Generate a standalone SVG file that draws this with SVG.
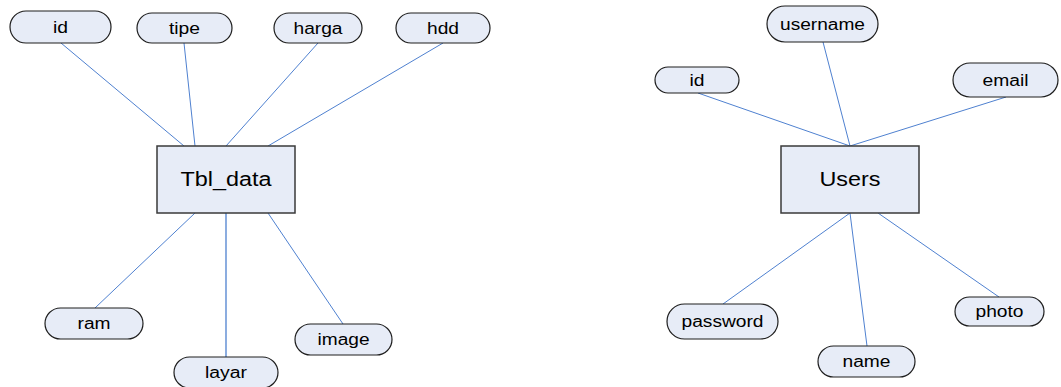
<svg xmlns="http://www.w3.org/2000/svg" width="1061" height="387" viewBox="0 0 1061 387">
<style>
.attr{fill:#e7ecf7;stroke:#1e1e1e;stroke-width:1.2}
.ent{fill:#e7ecf7;stroke:#3a3a3a;stroke-width:1.5}
.t{font-family:"Liberation Sans",Arial,sans-serif;font-size:16px;fill:#000;text-anchor:middle}
.te{font-family:"Liberation Sans",Arial,sans-serif;font-size:19.5px;fill:#000;text-anchor:middle}
.c line{stroke:#4f81d0;stroke-width:1}
</style>
<rect width="1061" height="387" fill="#fff"/>
<g class="c" id="connectors">
<line x1="61" y1="43" x2="184" y2="146"/>
<line x1="184" y1="43" x2="195" y2="146"/>
<line x1="318" y1="43" x2="226" y2="146"/>
<line x1="443" y1="43" x2="268" y2="146"/>
<line x1="195" y1="213" x2="95" y2="308"/>
<line x1="226" y1="213" x2="226" y2="357" style="stroke-width:1.6;stroke:#6f98d8"/>
<line x1="268" y1="213" x2="343" y2="324"/>
<line x1="698" y1="93" x2="850" y2="146"/>
<line x1="823" y1="42" x2="850" y2="146"/>
<line x1="1006" y1="97" x2="850" y2="146"/>
<line x1="850" y1="213" x2="723" y2="304"/>
<line x1="850" y1="213" x2="867" y2="346"/>
<line x1="878" y1="213" x2="999" y2="297"/>
</g>
<g id="tbl_data"><rect class="ent" x="157" y="146" width="138" height="67"/><text class="te" x="226" y="186" textLength="91" lengthAdjust="spacingAndGlyphs">Tbl_data</text></g>
<g id="users"><rect class="ent" x="781" y="146" width="138" height="67"/><text class="te" x="850" y="186" textLength="61" lengthAdjust="spacingAndGlyphs">Users</text></g>
<g id="tbl_id"><rect class="attr" x="10" y="11" width="101" height="32" rx="16"/><text class="t" x="60.5" y="32.5" textLength="15" lengthAdjust="spacingAndGlyphs">id</text></g>
<g id="tbl_tipe"><rect class="attr" x="137" y="13" width="95" height="30" rx="15"/><text class="t" x="184.5" y="33.5" textLength="31" lengthAdjust="spacingAndGlyphs">tipe</text></g>
<g id="tbl_harga"><rect class="attr" x="274" y="13" width="88" height="30" rx="15"/><text class="t" x="318" y="33.5" textLength="49" lengthAdjust="spacingAndGlyphs">harga</text></g>
<g id="tbl_hdd"><rect class="attr" x="396" y="13" width="94" height="30" rx="15"/><text class="t" x="443" y="33.5" textLength="32" lengthAdjust="spacingAndGlyphs">hdd</text></g>
<g id="tbl_ram"><rect class="attr" x="45" y="308" width="98" height="31" rx="15.5"/><text class="t" x="94" y="329" textLength="33" lengthAdjust="spacingAndGlyphs">ram</text></g>
<g id="tbl_layar"><rect class="attr" x="174" y="357" width="104" height="31" rx="15.5"/><text class="t" x="226" y="378" textLength="42" lengthAdjust="spacingAndGlyphs">layar</text></g>
<g id="tbl_image"><rect class="attr" x="295" y="324" width="97" height="31" rx="15.5"/><text class="t" x="343.5" y="345" textLength="52" lengthAdjust="spacingAndGlyphs">image</text></g>
<g id="u_username"><rect class="attr" x="767" y="6" width="111" height="36" rx="18"/><text class="t" x="822.5" y="29.5" textLength="85" lengthAdjust="spacingAndGlyphs">username</text></g>
<g id="u_id"><rect class="attr" x="655" y="67" width="84" height="26" rx="13"/><text class="t" x="697" y="85.5" textLength="15" lengthAdjust="spacingAndGlyphs">id</text></g>
<g id="u_email"><rect class="attr" x="953" y="63" width="105" height="34" rx="17"/><text class="t" x="1005.5" y="85.5" textLength="46" lengthAdjust="spacingAndGlyphs">email</text></g>
<g id="u_password"><rect class="attr" x="667" y="304" width="111" height="35" rx="17.5"/><text class="t" x="722.5" y="327" textLength="82" lengthAdjust="spacingAndGlyphs">password</text></g>
<g id="u_name"><rect class="attr" x="818" y="346" width="97" height="31" rx="15.5"/><text class="t" x="866.5" y="367" textLength="48" lengthAdjust="spacingAndGlyphs">name</text></g>
<g id="u_photo"><rect class="attr" x="955" y="297" width="89" height="29" rx="14.5"/><text class="t" x="999.5" y="317" textLength="48" lengthAdjust="spacingAndGlyphs">photo</text></g>
</svg>
